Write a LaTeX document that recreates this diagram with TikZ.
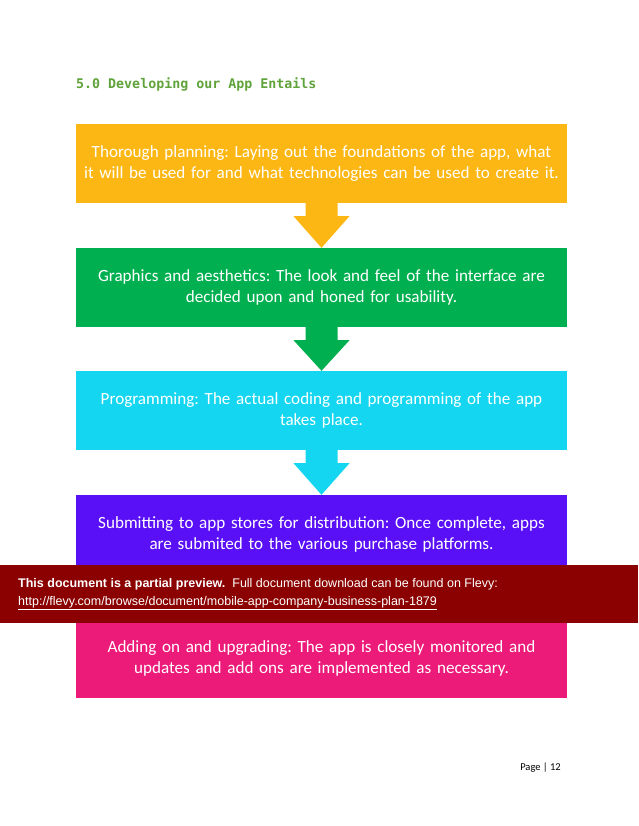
\documentclass[tikz,border=0pt]{standalone}
\usepackage{fontspec}
\setmainfont{Carlito}
\newfontfamily\bannerfont{Liberation Sans}
\newfontfamily\titlefont{DejaVu Sans Mono}
\usetikzlibrary{calc}

\definecolor{stepOrange}{HTML}{FDB714}
\definecolor{stepGreen}{HTML}{00B050}
\definecolor{stepCyan}{HTML}{14D6F0}
\definecolor{stepPurple}{HTML}{5A10F6}
\definecolor{stepPink}{HTML}{EC1A79}
\definecolor{bannerRed}{HTML}{8B0000}
\definecolor{titleGreen}{HTML}{5FA33A}

% block arrow from the bottom of one box to the top of the next
\newcommand{\blockarrow}[3]{%
  \fill[#3] ($(#1.south)+(-16,0)$) -- ($(#1.south)+(16,0)$) -- ($(#1.south)+(16,13)$)
    -- ($(#1.south)+(28,13)$) -- (#2.north) -- ($(#1.south)+(-28,13)$)
    -- ($(#1.south)+(-16,13)$) -- cycle;}

\begin{document}
\frenchspacing
\begin{tikzpicture}[
    x=1pt, y=-1pt,
    stepbox/.style={rectangle, minimum width=491pt, minimum height=79pt, text width=485pt,
        align=center, inner sep=0pt, text=white, font=\fontsize{17.1}{20.5}\selectfont},
    bannertext/.style={anchor=west, text=white, font=\bannerfont\fontsize{12.5}{14}\selectfont, inner sep=0pt}
]
\useasboundingbox[fill=white] (0,0) rectangle (638,826);

% Title
\node[anchor=west, text=titleGreen, font=\titlefont\bfseries\fontsize{13.3}{15}\selectfont, inner sep=0pt] (title) at (76,84) {5.0 Developing our App Entails};

% Boxes (steps)
\node[stepbox, fill=stepOrange] (s1) at (321.5,163.5) {Thorough planning: Laying out the foundations of the app, what\\it will be used for and what technologies can be used to create it.};
\node[stepbox, fill=stepGreen] (s2) at (321.5,287.5) {Graphics and aesthetics: The look and feel of the interface are\\decided upon and honed for usability.};
\node[stepbox, fill=stepCyan] (s3) at (321.5,410.5) {Programming: The actual coding and programming of the app\\takes place.};
\node[stepbox, fill=stepPurple] (s4) at (321.5,534.5) {Submitting to app stores for distribution: Once complete, apps\\are submited to the various purchase platforms.};
\node[stepbox, fill=stepPink] (s5) at (321.5,658.5) {Adding on and upgrading: The app is closely monitored and\\updates and add ons are implemented as necessary.};

% Arrows
\blockarrow{s1}{s2}{stepOrange}
\blockarrow{s2}{s3}{stepGreen}
\blockarrow{s3}{s4}{stepCyan}

% Preview banner
\fill[bannerRed] (0,565) rectangle (638,623);
\node[bannertext] (b1) at (18,584) {\textbf{This document is a partial preview.}\ \ Full document download can be found on Flevy:};
\node[bannertext] (b2) at (18,603) {\underline{http://flevy.com/browse/document/mobile-app-company-business-plan-1879}};

% Page number
\node[anchor=east, font=\fontsize{10.5}{12}\selectfont, inner sep=0pt] (page) at (561,768) {Page | 12};

\end{tikzpicture}
\end{document}
